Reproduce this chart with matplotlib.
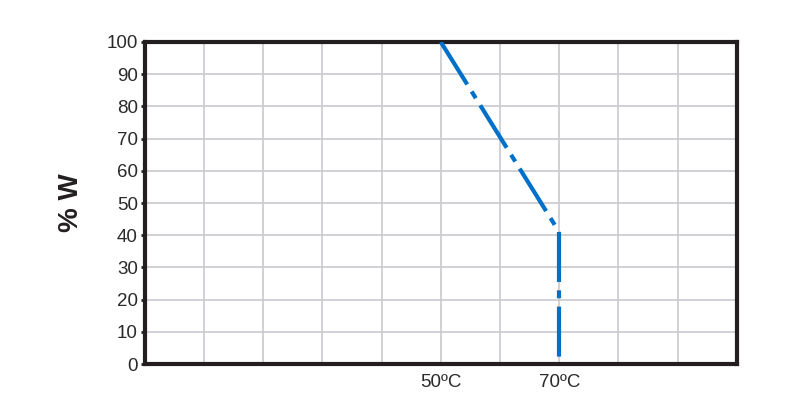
import matplotlib
matplotlib.use("Agg")
import matplotlib.pyplot as plt

plt.rcParams["font.family"] = ["Liberation Sans", "DejaVu Sans"]

# derating curve: temperature (°C) vs % W, drawn as two segments
slope_temp = [50, 70]
slope_power = [100, 41]
cutoff_temp = [70, 70]
cutoff_power = [41, 2]

x_ticks = list(range(0, 101, 10))
x_labels = ["" if t not in (50, 70) else f"{t}ºC" for t in x_ticks]
y_ticks = list(range(0, 101, 10))

fig = plt.figure(figsize=(8, 4.2), dpi=100)
ax = fig.add_axes([0.181, 0.133, 0.74, 0.767])

for xs, ys in [(slope_temp, slope_power), (cutoff_temp, cutoff_power)]:
    ax.plot(xs, ys, color="#0070c8", linewidth=3, solid_capstyle="butt",
            dash_capstyle="butt", dashes=(12, 2, 1.9, 2), zorder=3)

ax.set_xlim(0, 100)
ax.set_ylim(0, 100)
ax.set_xticks(x_ticks)
ax.set_xticklabels(x_labels, fontsize=13.5, color="#2a2a2a")
ax.set_yticks(y_ticks)
ax.set_yticklabels([str(v) for v in y_ticks], fontsize=13.5, color="#2a2a2a")
ax.tick_params(axis="x", length=0, pad=7)
ax.tick_params(axis="y", length=3, width=2, color="#231f20", pad=2)

ax.grid(True, color="#cacace", linewidth=1.2)
ax.set_axisbelow(True)
for s in ax.spines.values():
    s.set_linewidth(3)
    s.set_color("#231f20")

ax.set_ylabel("% W", fontsize=20, fontweight="bold", color="#231f20", labelpad=16)

plt.savefig("out.png", dpi=100)
plt.close()
